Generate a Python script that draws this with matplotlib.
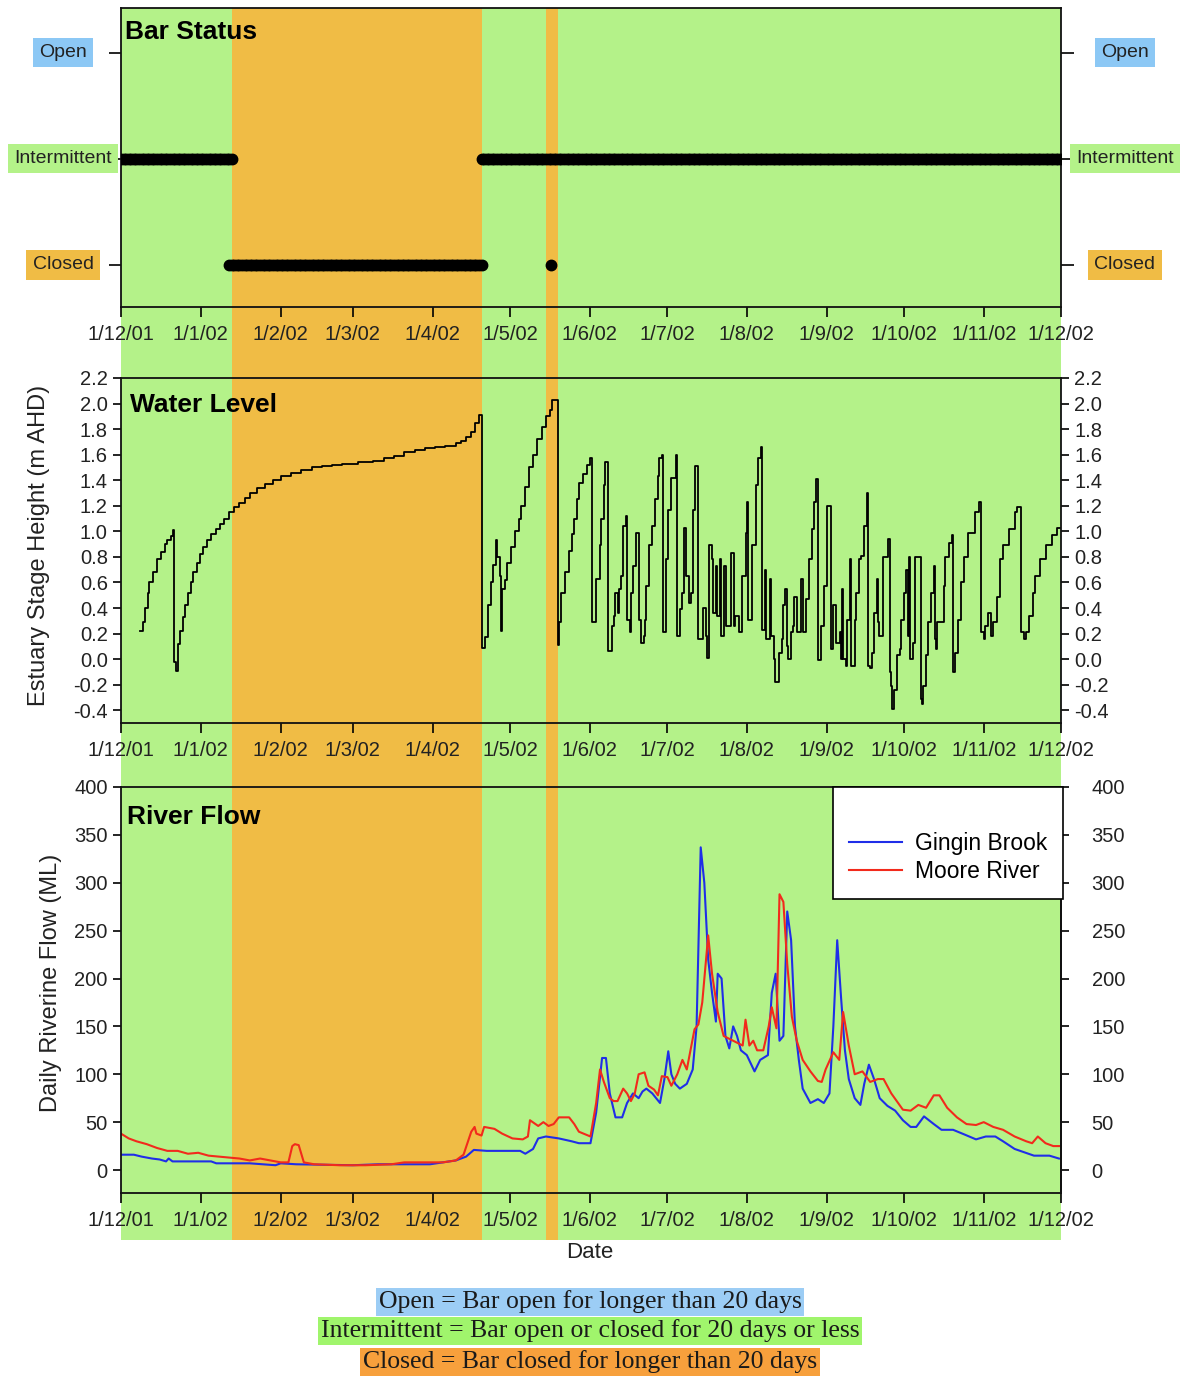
import matplotlib
matplotlib.use('Agg')
import matplotlib.pyplot as plt
import matplotlib.dates as mdates
from matplotlib.transforms import blended_transform_factory
from datetime import datetime

plt.rcParams['font.family'] = ['Liberation Sans', 'DejaVu Sans']

START = datetime(2001, 12, 1)
month_ticks = [datetime(2001, 12, 1)] + [datetime(2002, m, 1) for m in range(1, 13)]
month_labels = ['1/12/01', '1/1/02', '1/2/02', '1/3/02', '1/4/02', '1/5/02', '1/6/02',
                '1/7/02', '1/8/02', '1/9/02', '1/10/02', '1/11/02', '1/12/02']

# closed-bar periods (days since 1 Dec 2001)
closed_spans = [(43, 140), (165, 169.5)]

# bar status periods: (first day, last day, status) 0=Closed 1=Intermittent 2=Open
status_names = ['Closed', 'Intermittent', 'Open']
status_periods = [(0, 43, 1), (42, 140, 0), (140, 365, 1), (167, 167, 0)]

# water level change points (day, m AHD)
wl_day = [7.5, 8.5, 9.5, 10.5, 11, 12.5, 14, 15.5, 17, 18, 19.5, 20, 20.5, 21.5, 22, 23, 24, 25,
          26, 27, 28, 29.5, 30.5, 32, 33.5, 35, 37, 38.5, 40, 42, 44, 46, 48, 50, 53, 56, 59, 62,
          66, 70, 74, 78, 82, 86, 92, 98, 102, 106, 110, 114, 118, 122, 126, 130, 132, 134, 136,
          137.5, 139,
          140, 141.5, 142.5, 143.5, 144.5, 145.5, 146, 147, 147.5, 148, 149, 150, 151.5, 153,
          154.5, 155.5, 157, 158.5, 160, 161.5, 163.5, 165, 166.5, 167.5, 169.5, 170, 171, 172.5,
          174, 175, 176, 177, 178, 179.5, 181, 182,
          182.8, 184.5, 186, 186.5, 187.5, 188, 189, 190.5, 191.5, 192, 193, 193.5, 194, 195, 196,
          196.5, 197.5, 198, 199, 200, 201, 202, 203, 203.5, 204, 205, 206, 207.5, 208.5, 209,
          210, 210.5, 211.5, 212.5, 213.5, 215.5, 216, 217, 218, 218.5, 219.5, 220.5, 221.5, 222,
          223, 224, 226, 227, 227.5, 228.5, 229.5, 230, 231, 231.5, 232.5, 233, 234, 235, 237,
          238, 238.5, 240, 241, 242.5, 243, 243.5, 245, 246.5, 247.5, 248.5, 249, 250, 250.5,
          252, 252.5, 253.5, 254, 255.5, 256.5, 257, 258, 258.5, 259, 260, 261, 261.5, 262.5,
          264, 265, 266, 267, 268.5, 269, 270, 270.5, 272, 273, 274, 275.5, 276.5, 277.5, 279,
          279.5, 280, 280.5, 281.5, 282, 283, 283.5, 285, 285.5, 286.5, 287.5, 288.5, 289.5, 290,
          291, 291.5, 292.5, 293.5, 294, 294.5, 296, 298, 298.5, 299, 299.3, 300, 301.5, 302.5,
          303, 304, 305, 305.5, 306, 306.5, 307.5, 308.5, 310.5, 311, 311.5, 312.5, 313.5, 314.5,
          315.5, 316, 316.5, 317, 319.5, 320, 321.5, 322.5, 323, 324, 325, 326, 327.5, 329,
          331.5, 333, 334, 335, 335.5, 336.5, 338, 338.5, 340, 341.5, 342.5, 345, 347, 348, 349.5,
          350.5, 351.5, 352.5, 354, 355, 357, 359, 361.5, 363.5, 365]
wl_val = [0.22, 0.29, 0.40, 0.52, 0.60, 0.68, 0.78, 0.84, 0.90, 0.93, 0.96, 1.01, -0.02, -0.09,
          0.12, 0.22, 0.33, 0.42, 0.52, 0.60, 0.68, 0.75, 0.82, 0.88, 0.93, 0.98, 1.02, 1.06, 1.10,
          1.15, 1.19, 1.22, 1.26, 1.30, 1.34, 1.37, 1.40, 1.43, 1.46, 1.48, 1.50, 1.51, 1.52, 1.53,
          1.54, 1.55, 1.57, 1.59, 1.62, 1.64, 1.65, 1.66, 1.67, 1.69, 1.71, 1.74, 1.78, 1.85, 1.91,
          0.09, 0.17, 0.42, 0.60, 0.74, 0.93, 0.80, 0.65, 0.22, 0.55, 0.62, 0.75, 0.88, 1.00, 1.10,
          1.20, 1.35, 1.50, 1.60, 1.72, 1.82, 1.90, 1.95, 2.03, 0.11, 0.29, 0.52, 0.68, 0.85, 0.98,
          1.10, 1.25, 1.38, 1.45, 1.52, 1.57,
          0.29, 0.63, 0.89, 1.10, 1.36, 1.54, 0.06, 0.26, 0.34, 0.52, 0.36, 0.55, 0.65, 1.04, 1.12,
          0.31, 0.21, 0.52, 0.73, 0.99, 0.31, 0.13, 0.18, 0.31, 0.57, 0.89, 1.04, 1.25, 1.43, 1.57,
          1.60, 0.21, 0.78, 1.17, 1.42, 1.60, 0.18, 0.39, 0.52, 1.03, 0.65, 0.44, 0.52, 1.17, 1.51,
          0.16, 0.40, 0.18, 0.01, 0.89, 0.78, 0.36, 0.73, 0.34, 0.78, 0.18, 0.73, 0.26, 0.83, 0.26,
          0.34, 0.21, 0.65, 0.99, 1.23, 0.31, 0.89, 1.36, 1.57, 1.66, 0.23, 0.70, 0.16, 0.63, 0.18,
          0.00, -0.18, 0.05, 0.16, 0.42, 0.55, 0.10, 0.00, 0.21, 0.26, 0.49, 0.21, 0.63, 0.21, 0.47,
          0.78, 1.02, 1.23, 1.41, -0.01, 0.26, 0.57, 1.20, 0.08, 0.42, 0.13, 0.21, 0.00, 0.55, 0.00,
          -0.05, 0.31, 0.78, -0.05, 0.31, 0.52, 0.78, 0.81, 1.04, 1.30, -0.05, -0.07, 0.05, 0.36,
          0.63, 0.29, 0.18, 0.80, 0.94, -0.10, -0.21, -0.39, -0.24, 0.03, 0.08, 0.31, 0.52, 0.70,
          0.18, 0.80, 0.00, 0.13, 0.80, -0.31, -0.35, -0.21, 0.03, 0.29, 0.52, 0.73, 0.16, 0.08,
          0.29, 0.57, 0.80, 0.91, 0.97, -0.10, 0.05, 0.31, 0.60, 0.80, 0.99, 1.15, 1.23, 0.21, 0.16,
          0.26, 0.36, 0.18, 0.29, 0.49, 0.78, 0.89, 1.02, 1.15, 1.19, 0.21, 0.16, 0.21, 0.34, 0.52,
          0.65, 0.78, 0.89, 0.97, 1.03, 1.03]

# daily riverine flow (ML)
gingin_day = [0, 5, 8, 12, 15, 17.5, 18.5, 20, 35, 37, 50, 60, 62, 68, 90, 100, 120, 125, 130,
              134, 137, 142, 155, 157, 160, 162, 165, 170, 175, 177.8, 182.3, 184.5, 186.8,
              188.3, 189.8, 192, 194.6, 196.5, 198.8, 201, 202.5, 204, 206.3, 207.8, 209.3, 211,
              212.5, 213.7, 215.2, 217, 219.7, 222, 223.5, 225.1, 226.5, 228, 229.5, 231, 231.7,
              233.2, 234.7, 236.2, 237.7, 239.2, 240.7, 243, 246, 248.2, 251.2, 252.7, 254.2,
              255.7, 257.2, 258.7, 260.2, 261.7, 263.2, 264.7, 267.7, 270.6, 272.9, 275.1, 276.6,
              278.1, 279.6, 281.1, 282.6, 284.9, 287.1, 288.6, 290.4, 292.4, 294.6, 297.6, 300.6,
              303.6, 306.6, 308.8, 311.8, 315.6, 318.6, 323.1, 327.6, 332, 335.8, 339.5, 342.5,
              347, 354.5, 360.5, 364.2]
gingin_flow = [16, 16, 14, 12, 11, 9, 12, 9, 9, 7, 7, 5, 7, 6, 5, 6, 6, 8, 10, 14, 21, 20, 20,
               17, 22, 33, 35, 33, 30, 28, 28, 60, 117, 117, 80, 55, 55, 70, 80, 75, 82, 85, 80,
               75, 70, 95, 124, 100, 90, 85, 90, 105, 150, 337, 300, 220, 185, 155, 205, 200, 140,
               127, 150, 140, 125, 120, 103, 115, 120, 185, 205, 135, 140, 270, 240, 150, 115, 85,
               70, 74, 70, 80, 150, 240, 180, 125, 95, 75, 68, 90, 110, 95, 75, 67, 62, 52, 45, 45,
               56, 48, 42, 42, 37, 32, 35, 35, 30, 22, 15, 15, 12]
moore_day = [0, 3, 6, 10, 14, 18, 22, 26, 30, 34, 38, 42, 46, 50, 54, 58, 62, 65, 66.5, 67.5,
             69, 71, 75, 85, 95, 105, 110, 120, 125, 130, 133, 136, 137.3, 138, 140, 141, 145,
             148, 152, 156, 158, 158.8, 162, 164, 166, 168, 170, 174, 176, 177.8, 182.3, 184.5,
             186, 187.5, 189.8, 191.3, 192.8, 195, 196.5, 198, 199.5, 201, 203.3, 204.8, 207,
             208.5, 210, 212.2, 213.7, 216, 218, 219.7, 222.7, 224.2, 225.7, 228, 229.5, 231.7,
             234, 236.2, 239.2, 241.4, 242.5, 244, 245.5, 247, 249.4, 251.5, 252.7, 254.5, 255.7,
             257.2, 258.7, 260.5, 262.4, 264.7, 267.7, 270.6, 272.1, 273.6, 276.6, 278.9, 280.4,
             282.6, 284.9, 287.9, 290.9, 293.9, 296.1, 299.1, 303.6, 306.6, 309.6, 312.6, 315.6,
             317.8, 320.8, 324.6, 328.3, 332, 335, 338.7, 342.5, 347, 351.5, 353.8, 356, 359, 362,
             364.2]
moore_flow = [38, 33, 30, 27, 23, 20, 20, 17, 18, 15, 14, 13, 12, 10, 12, 10, 8, 8, 25, 27, 26,
              8, 6, 5, 5, 6, 8, 8, 8, 10, 16, 40, 45, 38, 36, 45, 43, 38, 33, 32, 35, 52, 46, 50,
              46, 48, 55, 55, 48, 40, 35, 70, 105, 92, 75, 72, 72, 85, 80, 72, 80, 100, 102, 88,
              84, 78, 98, 97, 88, 100, 115, 105, 147, 152, 175, 245, 205, 165, 140, 137, 133, 130,
              157, 130, 135, 125, 125, 150, 170, 148, 288, 280, 215, 160, 135, 115, 103, 93, 92,
              105, 123, 115, 165, 130, 100, 103, 92, 95, 95, 80, 63, 62, 68, 65, 78, 78, 65, 55, 48,
              47, 50, 45, 42, 35, 30, 28, 35, 28, 25, 25]

GREEN = '#b4f289'
ORANGE = '#f0bc45'
BLUE = '#8cc8f5'
TXT = '#222222'
t0 = mdates.date2num(START)
x_end = t0 + 365


def to_num(days):
    return [t0 + d for d in days]


W, H = 1188, 1378
fig = plt.figure(figsize=(W / 100, H / 100), dpi=100)
L, AW = 121 / W, 940 / W

# shared coloured background behind all three panels
bg = fig.add_axes([L, 1 - 1240 / H, AW, (1240 - 8) / H], zorder=-1)
bg.axvspan(t0, x_end, color=GREEN, lw=0)
for a, b in closed_spans:
    bg.axvspan(t0 + a, t0 + b, color=ORANGE, lw=0)
bg.set_xlim(t0, x_end)
bg.axis('off')

ax1 = fig.add_axes([L, 1 - 307 / H, AW, 299 / H])
ax2 = fig.add_axes([L, 1 - 723 / H, AW, 345 / H])
ax3 = fig.add_axes([L, 1 - 1193 / H, AW, 406 / H])

for ax in (ax1, ax2, ax3):
    ax.set_facecolor('none')
    ax.set_xlim(t0, x_end)
    ax.set_xticks(mdates.date2num(month_ticks))
    ax.set_xticklabels(month_labels)
    ax.tick_params(axis='x', direction='out', length=7, width=1.2, pad=6,
                   labelsize=14.5, labelcolor=TXT)
    ax.tick_params(axis='y', direction='out', length=6, width=1.2, labelsize=14.5,
                   labelcolor=TXT)
    for s in ax.spines.values():
        s.set_linewidth(1.3)
        s.set_color('#111111')

# --- Bar status
for a, b, st in status_periods:
    days = list(range(a, b + 1))
    ax1.plot(to_num(days), [st] * len(days), 'o', color='black', ms=7.5, zorder=3)
ax1.set_ylim(-0.4, 2.42)
ax1.set_yticks([0, 1, 2])
ax1.set_yticklabels(['', '', ''])
ax1.tick_params(axis='y', length=9, right=True)
trans = blended_transform_factory(ax1.transAxes, ax1.transData)
box_colors = [ORANGE, GREEN, BLUE]
for st, name in enumerate(status_names):
    for xa in (-0.0617, 1.068):
        ax1.text(xa, st, name, transform=trans, ha='center', va='center', fontsize=14,
                 color=TXT, clip_on=False,
                 bbox=dict(boxstyle='square,pad=0.33', fc=box_colors[st], ec='none'))
ax1.text(0.004, 0.92, 'Bar Status', transform=ax1.transAxes, fontsize=19,
         fontweight='bold', va='center', ha='left')

# --- Water level
ax2.plot(to_num(wl_day), wl_val, color='black', lw=1.3, drawstyle='steps-post')
ax2.set_ylim(-0.5, 2.2)
wl_ticks = [round(-0.4 + 0.2 * i, 1) for i in range(14)]
ax2.set_yticks(wl_ticks)
ax2.set_yticklabels(['%.1f' % v for v in wl_ticks])
ax2.tick_params(axis='y', right=True, labelright=True)
ax2.set_ylabel('Estuary Stage Height (m AHD)', fontsize=17, color=TXT)
ax2.yaxis.set_label_coords(-0.075, 0.514)
ax2.text(0.01, 0.922, 'Water Level', transform=ax2.transAxes, fontsize=19,
         fontweight='bold', va='center', ha='left')

# --- River flow
ax3.plot(to_num(gingin_day), gingin_flow, color='#1f2ee8', lw=1.5, label='Gingin Brook')
ax3.plot(to_num(moore_day), moore_flow, color='#f22a1c', lw=1.5, label='Moore River')
ax3.set_ylim(-24, 400)
flow_ticks = list(range(0, 401, 50))
ax3.set_yticks(flow_ticks)
sec = ax3.secondary_yaxis('right')
sec.set_yticks(flow_ticks)
sec.tick_params(direction='out', length=6, width=1.2, labelsize=14.5, labelcolor=TXT, pad=16)
sec.spines['right'].set_linewidth(1.3)
ax3.set_ylabel('Daily Riverine Flow (ML)', fontsize=17, color=TXT)
ax3.yaxis.set_label_coords(-0.063, 0.517)
ax3.set_xlabel('Date', fontsize=16, color=TXT)
ax3.xaxis.set_label_coords(0.499, -0.12)
ax3.text(0.006, 0.926, 'River Flow', transform=ax3.transAxes, fontsize=19,
         fontweight='bold', va='center', ha='left')
leg = ax3.legend(loc='upper right', bbox_to_anchor=(1.002, 1.0), borderaxespad=0,
                 title=' ', title_fontsize=19, fontsize=16.5, frameon=True, fancybox=False,
                 framealpha=1, edgecolor='black', handlelength=2.3, handletextpad=0.55,
                 labelspacing=0.22, borderpad=0.7)
leg.get_frame().set_linewidth(1.2)

# --- definitions under the chart
notes = ['Open = Bar open for longer than 20 days',
         'Intermittent = Bar open or closed for 20 days or less',
         'Closed = Bar closed for longer than 20 days']
note_colors = ['#9ccdf5', '#a0f56c', '#f7a03c']
note_y = [1302, 1331, 1362]
for txt, c, y in zip(notes, note_colors, note_y):
    fig.text(590 / W, 1 - y / H, txt, ha='center', va='center', fontsize=18.5,
             family=['Liberation Serif', 'DejaVu Serif'], color='#1a1a1a',
             bbox=dict(boxstyle='square,pad=0.1', fc=c, ec='none'))

fig.savefig('out.png', dpi=100)
